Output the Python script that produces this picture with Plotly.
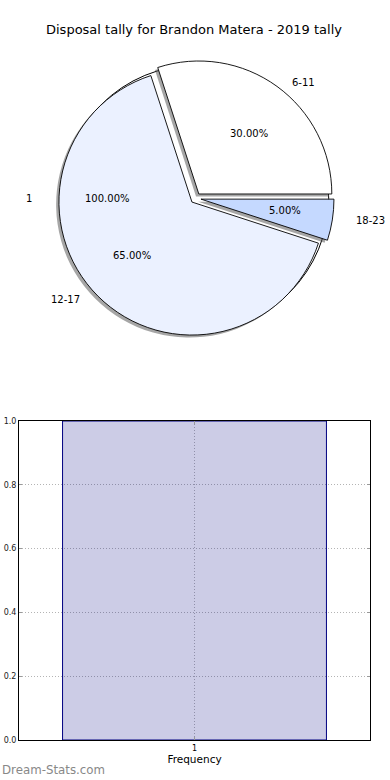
import math
import plotly.graph_objects as go

# ---------------- data ----------------
title_text = "Disposal tally for Brandon Matera - 2019 tally"
outer_labels = ["1"]
outer_values = [1]
slice_labels = ["6-11", "12-17", "18-23"]
slice_values = [6, 13, 1]
slice_colors = ["#ffffff", "#ebf1ff", "#c5d9ff"]
bar_categories = ["1"]
bar_values = [1]
y_ticks = [0.0, 0.2, 0.4, 0.6, 0.8, 1.0]
y_tick_labels = ["0.0", "0.2", "0.4", "0.6", "0.8", "1.0"]

# ---------------- layout constants ----------------
W, H = 390, 780
FONT = "DejaVu Sans"
CX, CY = 195.7, 198.3      # pie centre (px)
R = 133                    # pie radius (px)
PULL = 0.04
SX, SY = -2.8, 2.5         # shadow offset (px)
RX_T, RY_T = 141, 126      # text placement radii
RX_T1 = 147


def dom(cx, cy, half):
    return dict(x=[(cx - half) / W, (cx + half) / W],
                y=[1 - (cy + half) / H, 1 - (cy - half) / H])


def px2paper(x, y):
    return x / W, 1 - y / H


def start_rotation(values):
    # plotly's counterclockwise pies put the first slice clockwise of the
    # rotation line; shift so the first slice starts at 3 o'clock going CCW
    return 90 - values[0] / sum(values) * 360


shadow = "rgba(77,77,77,0.5)"
fig = go.Figure()

rot_outer = start_rotation(outer_values)
rot_slices = start_rotation(slice_values)

# outer "1" pie: shadow + wedge
fig.add_trace(go.Pie(labels=outer_labels, values=outer_values, sort=False,
                     marker=dict(colors=[shadow], line=dict(width=0)),
                     domain=dom(CX + SX, CY + SY, R), textinfo="none",
                     hoverinfo="skip", showlegend=False, rotation=rot_outer,
                     direction="counterclockwise"))
fig.add_trace(go.Pie(labels=outer_labels, values=outer_values, sort=False,
                     marker=dict(colors=["#ffffff"], line=dict(color="black", width=1)),
                     domain=dom(CX, CY, R), textinfo="none",
                     hoverinfo="label+percent", showlegend=False, rotation=rot_outer,
                     direction="counterclockwise"))
# exploded slices: shadow + wedges
fig.add_trace(go.Pie(labels=slice_labels, values=slice_values, sort=False,
                     pull=[PULL] * len(slice_values),
                     marker=dict(colors=[shadow] * len(slice_values), line=dict(width=0)),
                     domain=dom(CX + SX, CY + SY, R * (1 + PULL)), textinfo="none",
                     hoverinfo="skip", showlegend=False, rotation=rot_slices,
                     direction="counterclockwise"))
fig.add_trace(go.Pie(labels=slice_labels, values=slice_values, sort=False,
                     pull=[PULL] * len(slice_values),
                     marker=dict(colors=slice_colors, line=dict(color="black", width=0.9)),
                     domain=dom(CX, CY, R * (1 + PULL)), textinfo="none",
                     hoverinfo="label+percent", showlegend=False, rotation=rot_slices,
                     direction="counterclockwise"))

annotations = []


def add_pie_texts(labels, values, explode, rx, ry):
    total = sum(values)
    start = 0.0
    for lab, v in zip(labels, values):
        frac = v / total
        mid = math.radians(start + frac * 180.0)
        start += frac * 360.0
        c, s = math.cos(mid), math.sin(mid)
        lx = CX + (explode + 1.1) * rx * c
        ly = CY - (explode + 1.1) * ry * s
        px, py = px2paper(lx, ly)
        annotations.append(dict(x=px, y=py, xref="paper", yref="paper", text=lab,
                                showarrow=False, xanchor="left" if c > 1e-9 else "right",
                                yanchor="middle", font=dict(family=FONT, size=10, color="black")))
        tx = CX + (explode + 0.6) * rx * c
        ty = CY - (explode + 0.6) * ry * s
        px, py = px2paper(tx, ty)
        annotations.append(dict(x=px, y=py, xref="paper", yref="paper",
                                text="%.2f%%" % (frac * 100), showarrow=False,
                                xanchor="center", yanchor="middle",
                                font=dict(family=FONT, size=10, color="black")))


add_pie_texts(outer_labels, outer_values, 0.0, RX_T1, RY_T)
add_pie_texts(slice_labels, slice_values, PULL, RX_T, RY_T)

# title
tx, ty = px2paper(194.2, 30)
annotations.append(dict(x=tx, y=ty, xref="paper", yref="paper", text=title_text,
                        showarrow=False, xanchor="center", yanchor="middle",
                        font=dict(family=FONT, size=13, color="black")))

# bar chart
fig.add_trace(go.Bar(x=bar_categories, y=bar_values, width=0.8,
                     marker=dict(color="rgba(0,0,128,0.2)", line=dict(color="#000080", width=1)),
                     showlegend=False, xaxis="x", yaxis="y"))

annotations.append(dict(x=bar_categories[0], y=1 - 412 / H, xref="x", yref="paper",
                        text=bar_categories[0], showarrow=False, xanchor="center",
                        yanchor="middle", font=dict(family=FONT, size=10, color="#000080")))

# watermark
wx, wy = px2paper(0, 770)
annotations.append(dict(x=wx, y=wy, xref="paper", yref="paper", text="Dream-Stats.com",
                        showarrow=False, xanchor="left", yanchor="middle",
                        font=dict(family=FONT, size=11.8, color="#888888")))

grid = dict(showgrid=True, gridcolor="#b4b4b4", griddash="1px,2px", gridwidth=1)

fig.update_layout(
    width=W, height=H, margin=dict(l=0, r=0, t=0, b=0, autoexpand=False),
    paper_bgcolor="white", plot_bgcolor="white",
    annotations=annotations,
    xaxis=dict(domain=[19 / W, 370 / W], anchor="y", type="category", automargin=False,
               range=[-0.532, 0.532], showline=True, linecolor="black", linewidth=1,
               mirror="ticks", ticks="inside", ticklen=3, tickcolor="#999999",
               tickfont=dict(family=FONT, size=8, color="black"),
               title=dict(text="Frequency", font=dict(family=FONT, size=10.5, color="black"),
                          standoff=4),
               zeroline=False, **grid),
    yaxis=dict(domain=[1 - 740 / H, 1 - 421 / H], anchor="x", range=[0, 1], automargin=False,
               tickvals=y_ticks, ticktext=y_tick_labels,
               showline=True, linecolor="black", linewidth=1,
               mirror="ticks", ticks="inside", ticklen=3, tickcolor="#999999",
               tickfont=dict(family=FONT, size=8, color="#222222"),
               zeroline=False, **grid),
)

fig.write_html("out.html", config={"displayModeBar": False},
               post_script="document.body.style.margin='0';document.body.style.overflow='hidden';")
